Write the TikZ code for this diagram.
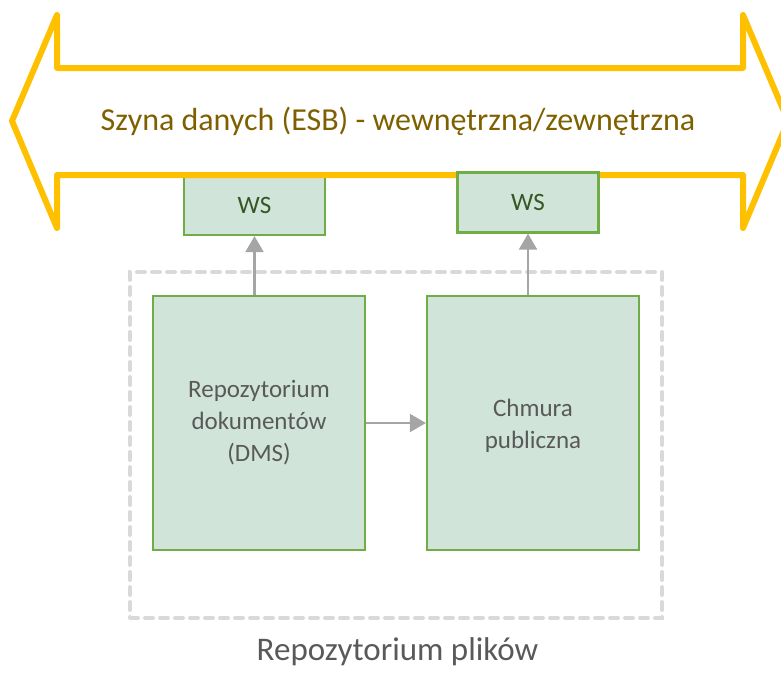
\documentclass[tikz,border=0pt]{standalone}
\usepackage{fontspec}
\setmainfont{Carlito}
\usetikzlibrary{arrows.meta}
\definecolor{busyellow}{HTML}{FFC000}
\definecolor{bustext}{HTML}{7F6000}
\definecolor{boxfill}{HTML}{D0E4DA}
\definecolor{boxline}{HTML}{70AD47}
\definecolor{wstext}{HTML}{375623}
\definecolor{boxtext}{HTML}{595959}
\definecolor{conn}{HTML}{A5A5A5}
\definecolor{dashgray}{HTML}{D9D9D9}
\tikzset{
  greenbox/.style={draw=boxline, fill=boxfill, line width=2.2pt, inner sep=0pt, align=center, text=boxtext, font=\fontsize{25}{32}\selectfont},
  wsbox/.style={greenbox, minimum width=141pt, minimum height=60pt, text=wstext},
  bigbox/.style={greenbox, minimum width=212pt, minimum height=254pt},
  connector/.style={draw=conn, line width=2.2pt, -{Triangle[length=16pt,width=18pt]}},
}
\begin{document}
\begin{tikzpicture}[x=1pt,y=-1pt]
\useasboundingbox (0,0) rectangle (781,681);
% dashed group
\node[draw=dashgray, line width=4pt, dash pattern=on 8pt off 7pt, line cap=round, minimum width=532pt, minimum height=346pt, inner sep=0pt] (group) at (396,445) {};
% left WS (under bus)
\node[wsbox] (ws1) at (254.5,205) {WS};
% bus arrow
\draw[busyellow, line width=6pt, line join=round]
  (12,121) -- (57,15) -- (57,68) -- (743,68) -- (743,15) -- (788,121) -- (743,228) -- (743,175) -- (57,175) -- (57,228) -- cycle;
\node[text=bustext, font=\fontsize{32}{38}\selectfont] (bus) at (398,121) {Szyna danych (ESB) - wewnętrzna/zewnętrzna};
% right WS (over bus)
\node[wsbox] (ws2) at (528,202.5) {WS};
% main boxes
\node[bigbox] (dms) at (259,423) {Repozytorium\\dokumentów\\(DMS)};
\node[bigbox] (cloud) at (533,423) {};
\node[text=boxtext, align=center, font=\fontsize{25}{32}\selectfont] (cloudtext) at (533,426) {Chmura\\publiczna};
% connectors
\draw[connector] (dms.north -| ws1.south) -- (ws1.south);
\draw[connector] (cloud.north -| ws2.south) -- (ws2.south);
\draw[connector] (dms.east) -- (cloud.west);
% caption
\node[text=boxtext, font=\fontsize{33}{38}\selectfont] (caption) at (397.5,652) {Repozytorium plików};
\end{tikzpicture}
\end{document}
